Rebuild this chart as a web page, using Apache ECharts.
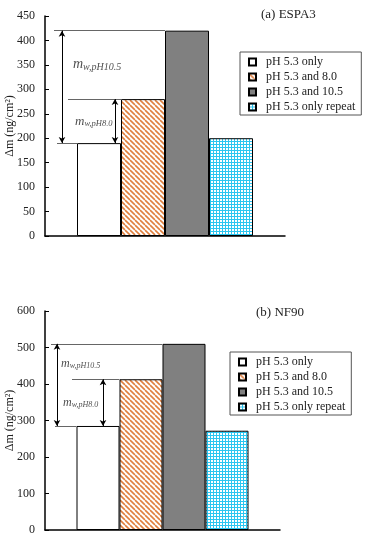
<!DOCTYPE html>
<html>
<head>
<meta charset="utf-8">
<script src="https://cdn.jsdelivr.net/npm/echarts@6/dist/echarts.min.js"></script>
<style>
  html, body { margin: 0; padding: 0; background: #fff; }
  #chart { width: 366px; height: 539px; }
</style>
</head>
<body>
<div id="chart"></div>
<script>
// data
const categories = [''];
const seriesNames = ['pH 5.3 only', 'pH 5.3 and 8.0', 'pH 5.3 and 10.5', 'pH 5.3 only repeat'];
const espa3Values = [190, 280, 420, 200];
const nf90Values = [285, 413, 510, 272];
const espa3Axis = { max: 450, interval: 50 };
const nf90Axis = { max: 600, interval: 100 };
const titles = ['(a) ESPA3', '(b) NF90'];
const yName = 'Δm (ng/cm²)';

const FONT = '"Liberation Serif", "Times New Roman", serif';

// fill patterns
function stripes() {
  const c = document.createElement('canvas');
  c.width = 5; c.height = 5;
  const g = c.getContext('2d');
  g.fillStyle = '#fff';
  g.fillRect(0, 0, 5, 5);
  g.strokeStyle = '#e0803f';
  g.lineWidth = 1.6;
  [-5, 0, 5].forEach(d => {
    g.beginPath();
    g.moveTo(d, 0);
    g.lineTo(d + 5, 5);
    g.stroke();
  });
  return { image: c, repeat: 'repeat' };
}
function cyanGrid() {
  const c = document.createElement('canvas');
  c.width = 3; c.height = 3;
  const g = c.getContext('2d');
  g.fillStyle = '#ffffff';
  g.fillRect(0, 0, 3, 3);
  g.fillStyle = '#2cc6f0';
  g.fillRect(0, 0, 1, 3);
  g.fillRect(0, 0, 3, 1);
  return { image: c, repeat: 'repeat' };
}
const fills = ['#ffffff', stripes(), '#808080', cyanGrid()];

// layout of the two panels
const panels = [
  { values: espa3Values, axis: espa3Axis, top: 16, bottom: 303, right: 81, barW: 44,
    legend: { left: 240, top: 52 }, title: { left: 261, top: 8 },
    lineFrom: [12, 23, 9], arrowX: [17, 70], labelX: [28, 30], labelK: 0.7,
    font: [[14, 10], [13, 8.5]] },
  { values: nf90Values, axis: nf90Axis, top: 311, bottom: 9, right: 86, barW: 43,
    legend: { left: 230, top: 352 }, title: { left: 256, top: 306 },
    lineFrom: [10, 27, 6], arrowX: [12, 58], labelX: [16, 18], labelK: 0.76,
    font: [[12, 8], [12, 8]] }
];

const grid = [], xAxis = [], yAxis = [], series = [], legend = [], title = [];

panels.forEach((p, k) => {
  const gw = 366 - 45 - p.right;
  grid.push({ left: 45, right: p.right, top: p.top, bottom: p.bottom, outerBoundsMode: 'none' });
  xAxis.push({
    type: 'category', gridIndex: k, data: categories,
    axisLine: { lineStyle: { color: '#000', width: 1.5 } },
    axisTick: { show: false }, axisLabel: { show: false }
  });
  xAxis.push({ type: 'value', gridIndex: k, min: 0, max: gw, show: false });
  yAxis.push({
    type: 'value', gridIndex: k, min: 0, max: p.axis.max, interval: p.axis.interval,
    name: yName, nameLocation: 'middle', nameGap: 29, nameMoveOverlap: false,
    nameTextStyle: { fontFamily: FONT, fontSize: 12, color: '#222' },
    axisLine: { show: true, lineStyle: { color: '#000', width: 1.5 } },
    axisTick: { show: true, inside: true, length: 4, lineStyle: { color: '#000' } },
    axisLabel: { fontFamily: FONT, fontSize: 12, color: '#222', margin: 10 },
    splitLine: { show: false }
  });

  seriesNames.forEach((name, i) => {
    series.push({
      name, type: 'bar', xAxisIndex: 2 * k, yAxisIndex: k,
      data: [p.values[i]], barWidth: p.barW, barGap: '0%',
      itemStyle: { color: fills[i], borderColor: '#000', borderWidth: 1 },
      emphasis: { disabled: true }
    });
  });

  // annotation: levels, double arrows and labels
  const v = p.values;
  const barLeft = i => (gw - 4 * p.barW) / 2 + i * p.barW;
  const lvl = (x0, x1, y) => [{ coord: [x0, y] }, { coord: [x1, y] }];
  const arr = (x, y0, y1) => [
    { coord: [x, y0], symbol: 'arrow', lineStyle: { color: '#000' } },
    { coord: [x, y1], symbol: 'arrow' }
  ];
  const rich = {};
  p.font.forEach((f, j) => {
    rich['m' + j] = { fontFamily: FONT, fontStyle: 'italic', fontSize: f[0], color: '#222' };
    rich['s' + j] = { fontFamily: FONT, fontStyle: 'italic', fontSize: f[1], color: '#222', padding: [f[1] * 0.6, 0, 0, 0] };
  });
  series.push({
    type: 'scatter', xAxisIndex: 2 * k + 1, yAxisIndex: k, silent: true,
    symbolSize: 0,
    data: [
      { value: [p.labelX[0], v[0] + p.labelK * (v[2] - v[0])], sub: 'w,pH10.5' },
      { value: [p.labelX[1], (v[0] + v[1]) / 2], sub: 'w,pH8.0' }
    ],
    label: {
      show: true, position: 'right', distance: 0,
      formatter: d => '{m' + d.dataIndex + '|m}{s' + d.dataIndex + '|' + d.data.sub + '}', rich
    },
    markLine: {
      silent: true, animation: false,
      symbol: 'none', symbolSize: [5, 6],
      label: { show: false },
      lineStyle: { type: 'solid', color: '#666', width: 1 },
      emphasis: { disabled: true },
      data: [
        lvl(p.lineFrom[0], barLeft(0), v[0]),
        lvl(p.lineFrom[1], barLeft(1), v[1]),
        lvl(p.lineFrom[2], barLeft(2), v[2]),
        arr(p.arrowX[0], v[0], v[2]),
        arr(p.arrowX[1], v[0], v[1])
      ]
    }
  });

  legend.push({
    left: p.legend.left, top: p.legend.top, orient: 'vertical',
    data: seriesNames, icon: 'rect', itemWidth: 7, itemHeight: 7, itemGap: 3,
    selectedMode: false,
    borderColor: '#555', borderWidth: 1, padding: [4, 6, 2, 8],
    textStyle: { fontFamily: FONT, fontSize: 12, color: '#222', padding: [0, 0, 0, 5] }
  });
  title.push({
    text: titles[k], left: p.title.left, top: p.title.top, padding: 0,
    textStyle: { fontFamily: FONT, fontSize: 13, fontWeight: 'normal', color: '#222' }
  });
});

const chart = echarts.init(document.getElementById('chart'));
chart.setOption({
  animation: false,
  title, legend, grid, xAxis, yAxis, series
});
</script>
</body>
</html>
